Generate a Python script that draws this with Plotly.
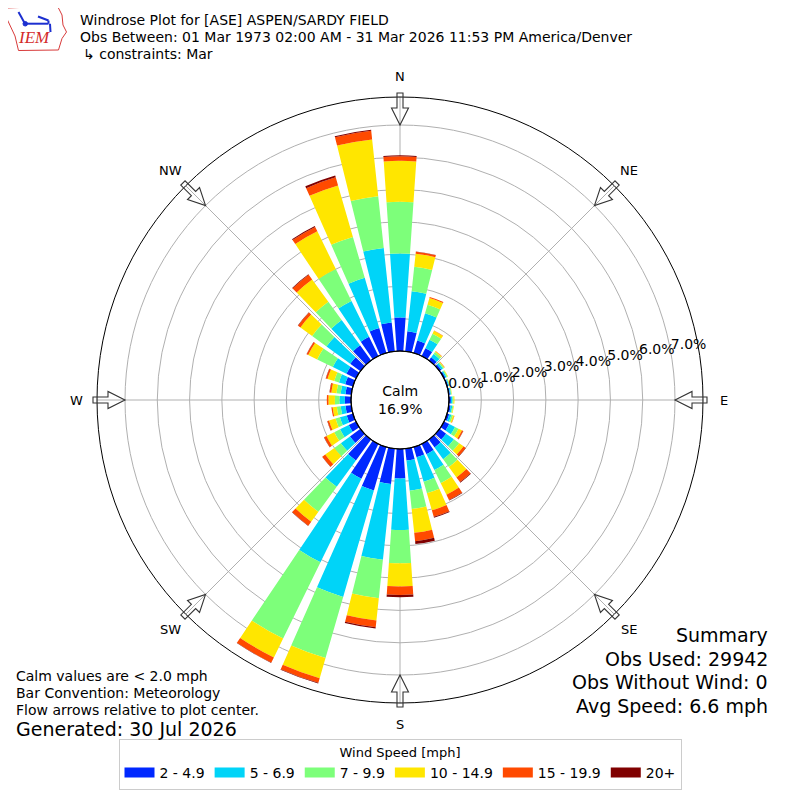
import math
import plotly.graph_objects as go

# ---------------- data ----------------
directions = [0, 10, 20, 30, 40, 50, 60, 70, 80, 90, 100, 110, 120, 130, 140, 150, 160, 170,
              180, 190, 200, 210, 220, 230, 240, 250, 260, 270, 280, 290, 300, 310, 320, 330, 340, 350]

speed_bins = ["2 - 4.9", "5 - 6.9", "7 - 9.9", "10 - 14.9", "15 - 19.9", "20+"]
bin_colors = ["#0028ff", "#00d4f8", "#7dff7a", "#ffe600", "#ff4a00", "#800000"]

# percent of observations per direction, per speed bin
freq_2_4_9 = [1.04, 0.62, 0.40, 0.27, 0.12, 0.07, 0.05, 0.04, 0.04, 0.06, 0.06, 0.07, 0.18, 0.25, 0.30, 0.35, 0.33, 0.37,
              0.91, 1.10, 1.40, 1.20, 0.80, 0.40, 0.25, 0.20, 0.18, 0.19, 0.18, 0.25, 0.33, 0.39, 0.58, 0.66, 0.80, 0.90]
freq_5_6_9 = [1.98, 1.25, 0.88, 0.29, 0.13, 0.06, 0.04, 0.03, 0.03, 0.05, 0.05, 0.07, 0.20, 0.30, 0.45, 0.55, 0.79, 0.94,
              1.60, 2.36, 3.43, 2.88, 1.01, 0.35, 0.30, 0.22, 0.15, 0.17, 0.15, 0.20, 0.47, 0.91, 0.97, 1.24, 1.62, 2.32]
freq_7_9_9 = [1.60, 0.76, 0.27, 0.21, 0.07, 0.04, 0.03, 0.02, 0.02, 0.03, 0.03, 0.05, 0.12, 0.20, 0.30, 0.45, 0.37, 0.57,
              1.03, 1.20, 1.97, 2.63, 0.96, 0.25, 0.20, 0.14, 0.12, 0.14, 0.13, 0.15, 0.54, 0.55, 0.70, 1.10, 1.32, 1.61]
freq_10_14_9 = [1.27, 0.41, 0.22, 0.10, 0.03, 0.02, 0.02, 0.01, 0.01, 0.03, 0.02, 0.04, 0.12, 0.17, 0.40, 0.40, 0.55, 0.74,
                0.72, 0.69, 0.65, 0.65, 0.38, 0.35, 0.27, 0.21, 0.13, 0.20, 0.16, 0.22, 0.31, 0.45, 0.85, 1.30, 1.66, 1.77]
freq_15_19_9 = [0.14, 0.06, 0.03, 0.01, 0.01, 0.01, 0.00, 0.00, 0.00, 0.00, 0.00, 0.01, 0.04, 0.08, 0.18, 0.18, 0.21, 0.26,
                0.26, 0.21, 0.15, 0.18, 0.15, 0.11, 0.08, 0.05, 0.04, 0.05, 0.05, 0.05, 0.05, 0.09, 0.18, 0.15, 0.26, 0.27]
freq_20_plus = [0.03, 0.01, 0.00, 0.00, 0.00, 0.00, 0.00, 0.00, 0.00, 0.00, 0.00, 0.00, 0.01, 0.01, 0.02, 0.02, 0.03, 0.09,
                0.07, 0.04, 0.02, 0.01, 0.01, 0.01, 0.01, 0.01, 0.00, 0.00, 0.01, 0.01, 0.01, 0.01, 0.02, 0.03, 0.06, 0.03]

radial_ticks = [0, 1, 2, 3, 4, 5, 6, 7]
radial_tick_labels = ["0.0%", "1.0%", "2.0%", "3.0%", "4.0%", "5.0%", "6.0%", "7.0%"]
compass_angles = [0, 45, 90, 135, 180, 225, 270, 315]
compass_labels = ["N", "NE", "E", "SE", "S", "SW", "W", "NW"]

calm_pct = "16.9%"
title_lines = ["Windrose Plot for [ASE] ASPEN/SARDY FIELD",
               "Obs Between: 01 Mar 1973 02:00 AM - 31 Mar 2026 11:53 PM America/Denver",
               "\u21b3 constraints: Mar"]
notes_left = ["Calm values are < 2.0 mph", "Bar Convention: Meteorology",
              "Flow arrows relative to plot center."]
generated = "Generated: 30 Jul 2026"
summary_lines = ["Summary", "Obs Used: 29942", "Obs Without Wind: 0", "Avg Speed: 6.6 mph"]

# ---------------- layout geometry ----------------
# the page body has an 8px margin, so the figure starts at screen (8, 8)
OFF = 8
W = H = 784
CX, CY = 400, 400          # screen coords of rose centre
R_OUT = 303
R_HOLE = 49
R_SEVEN = 275
R_LABEL = 324
FONT = "DejaVu Sans"


def px(x):
    return (x - OFF) / W


def py(y):
    return 1 - (y - OFF) / H


series = [freq_2_4_9, freq_5_6_9, freq_7_9_9, freq_10_14_9, freq_15_19_9, freq_20_plus]

fig = go.Figure()
for name, color, vals in zip(speed_bins, bin_colors, series):
    fig.add_trace(go.Barpolar(
        r=vals, theta=directions, name=name, width=7.8,
        marker=dict(color=color, line=dict(width=0)),
        hoverinfo="skip", showlegend=False,
    ))

# legend entries drawn as wide colour swatches
for name, color in zip(speed_bins, bin_colors):
    fig.add_trace(go.Scatterpolar(
        r=[None], theta=[None], mode="lines", name=name,
        line=dict(color=color, width=10), hoverinfo="skip", showlegend=True,
    ))

# radial tick labels along the 80 deg (clockwise from N) ray
fig.add_trace(go.Scatterpolar(
    r=radial_ticks, theta=[80] * len(radial_ticks), mode="text",
    text=radial_tick_labels, textposition="top right",
    textfont=dict(family=FONT, size=14, color="black"),
    showlegend=False, hoverinfo="skip", cliponaxis=False,
))

domx = [px(CX - R_OUT), px(CX + R_OUT)]
domy = [py(CY + R_OUT), py(CY - R_OUT)]
fig.update_layout(
    width=W, height=H, margin=dict(l=0, r=0, t=0, b=0),
    paper_bgcolor="white", plot_bgcolor="white",
    font=dict(family=FONT, size=13, color="black"),
    polar=dict(
        domain=dict(x=domx, y=domy),
        bgcolor="white",
        hole=R_HOLE / R_OUT,
        barmode="stack",
        radialaxis=dict(range=[0, 7 * (R_OUT - R_HOLE) / (R_SEVEN - R_HOLE)],
                        tickvals=radial_ticks, showticklabels=False, ticks="",
                        showline=False, gridcolor="#b0b0b0", gridwidth=1, angle=10),
        angularaxis=dict(rotation=90, direction="clockwise",
                         tickmode="array", tickvals=compass_angles, ticktext=compass_labels,
                         showticklabels=False, ticks="",
                         showline=True, linecolor="black", linewidth=1,
                         gridcolor="#b0b0b0", gridwidth=1),
    ),
    legend=dict(orientation="h", x=px(400), xanchor="center", y=py(790), yanchor="bottom",
                bordercolor="#cccccc", borderwidth=1, bgcolor="white",
                font=dict(family=FONT, size=14),
                title=dict(text="Wind Speed [mph]", side="top center",
                           font=dict(family=FONT, size=13)),
                itemwidth=30, traceorder="normal"),
)

shapes = []
# calm circle edge
shapes.append(dict(type="circle", xref="paper", yref="paper",
                   x0=px(CX - R_HOLE), x1=px(CX + R_HOLE), y0=py(CY + R_HOLE), y1=py(CY - R_HOLE),
                   line=dict(color="black", width=1.2)))

# hollow flow arrows at compass points
arrow_template = [(307, -3), (292, -3), (292, -8.5), (275, 0), (292, 8.5), (292, 3), (307, 3)]
for a in compass_angles:
    t = math.radians(a)
    ux, uy = math.sin(t), -math.cos(t)
    vx, vy = math.cos(t), math.sin(t)
    pts = [(CX + r * ux + o * vx, CY + r * uy + o * vy) for r, o in arrow_template]
    d = "M " + " L ".join(f"{px(x):.5f},{py(y):.5f}" for x, y in pts) + " Z"
    shapes.append(dict(type="path", xref="paper", yref="paper", path=d,
                       line=dict(color="#333333", width=1.1), fillcolor="rgba(255,255,255,0)"))

# simple IEM logo: Iowa outline + blue station symbol
iowa = [(7, 8), (57, 6), (59, 9), (62, 15), (63, 25), (66.5, 32), (62, 38.5), (60, 45), (58.5, 50),
        (18.5, 50.5), (15, 36), (7, 19)]
d = "M " + " L ".join(f"{px(x):.5f},{py(y):.5f}" for x, y in iowa) + " Z"
shapes.append(dict(type="path", xref="paper", yref="paper", path=d,
                   line=dict(color="#d83a3a", width=1)))
for seg in [((24, 23.7), (48.5, 23.7)), ((18.5, 12), (25, 23.7)), ((38, 16.5), (48.5, 20.5)),
            ((48.5, 20.5), (48.5, 23.7)), ((50, 23.7), (50.5, 32))]:
    (x0, y0), (x1, y1) = seg
    shapes.append(dict(type="line", xref="paper", yref="paper",
                       x0=px(x0), y0=py(y0), x1=px(x1), y1=py(y1),
                       line=dict(color="#1c2fd0", width=2)))
shapes.append(dict(type="circle", xref="paper", yref="paper",
                   x0=px(23), x1=px(27.5), y0=py(26), y1=py(21.5),
                   line=dict(color="#1c2fd0", width=1), fillcolor="#1c2fd0"))
fig.update_layout(shapes=shapes)

ann = []
ann.append(dict(text="<i>IEM</i>", x=px(33.5), y=py(37), xref="paper", yref="paper", showarrow=False,
                font=dict(family="Liberation Serif", size=17, color="#d42a2a"),
                xanchor="center", yanchor="middle"))
for i, line in enumerate(title_lines):
    ann.append(dict(text=line, x=px(78 if i < 2 else 81), y=py(20 + 17 * i), xref="paper", yref="paper",
                    showarrow=False, xanchor="left", yanchor="middle",
                    font=dict(family=FONT, size=14, color="black")))
# compass labels
for a, lab in zip(compass_angles, compass_labels):
    t = math.radians(a)
    lx = CX + R_LABEL * math.sin(t)
    ly = CY - R_LABEL * math.cos(t)
    ann.append(dict(text=lab, x=px(lx), y=py(ly), xref="paper", yref="paper", showarrow=False,
                    xanchor="center", yanchor="middle",
                    font=dict(family=FONT, size=13, color="black")))
ann.append(dict(text="Calm<br>" + calm_pct, x=px(400), y=py(400), xref="paper", yref="paper",
                showarrow=False, xanchor="center", yanchor="middle",
                font=dict(family=FONT, size=14, color="black")))
for i, line in enumerate(notes_left):
    ann.append(dict(text=line, x=px(14), y=py(676 + 17 * i), xref="paper", yref="paper",
                    showarrow=False, xanchor="left", yanchor="middle",
                    font=dict(family=FONT, size=14, color="black")))
ann.append(dict(text=generated, x=px(14), y=py(729), xref="paper", yref="paper",
                showarrow=False, xanchor="left", yanchor="middle",
                font=dict(family=FONT, size=19, color="black")))
for i, line in enumerate(summary_lines):
    ann.append(dict(text=line, x=px(770), y=py(635 + 23.7 * i), xref="paper", yref="paper",
                    showarrow=False, xanchor="right", yanchor="middle",
                    font=dict(family=FONT, size=19, color="black")))
fig.update_layout(annotations=ann)

fig.write_html("out.html")
